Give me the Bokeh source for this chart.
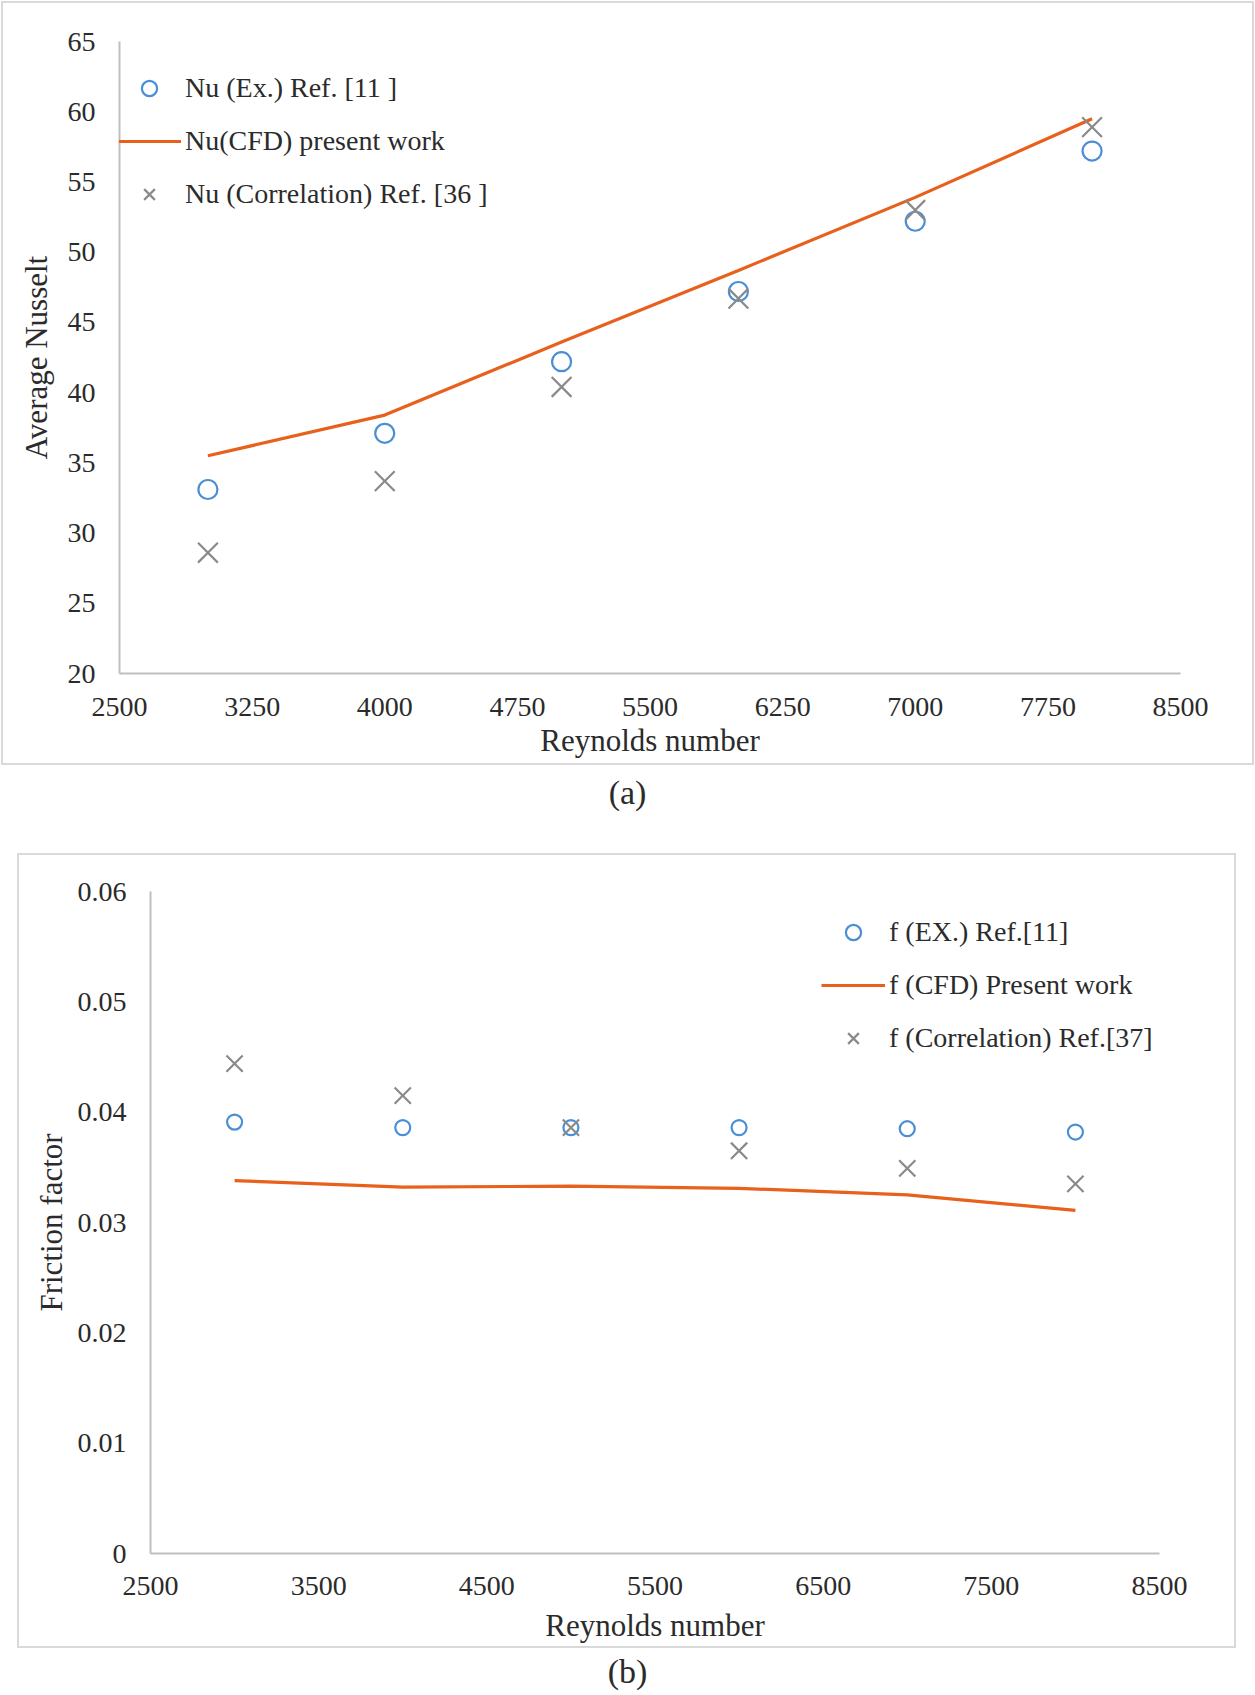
from bokeh.plotting import figure
from bokeh.models import Legend, LegendItem, Div, FixedTicker, Range1d
from bokeh.embed import file_html
from bokeh.resources import INLINE

# ---------------- data ----------------
re_vals = [3000, 4000, 5000, 6000, 7000, 8000]

nu_exp = [33.1, 37.1, 42.2, 47.2, 52.2, 57.2]
nu_cfd = [35.5, 38.4, 43.6, 48.7, 53.9, 59.5]
nu_corr = [28.6, 33.7, 40.4, 46.7, 53.0, 58.9]

f_exp = [0.0391, 0.0386, 0.0386, 0.0386, 0.0385, 0.0382]
f_cfd = [0.0338, 0.0332, 0.0333, 0.0331, 0.0325, 0.0311]
f_corr = [0.0444, 0.0415, 0.0386, 0.0365, 0.0349, 0.0335]

xticks_a = [2500, 3250, 4000, 4750, 5500, 6250, 7000, 7750, 8500]
yticks_a = [20, 25, 30, 35, 40, 45, 50, 55, 60, 65]
xticks_b = [2500, 3500, 4500, 5500, 6500, 7500, 8500]
yticks_b = [0, 0.01, 0.02, 0.03, 0.04, 0.05, 0.06]
ylabels_b = {0: "0", 0.01: "0.01", 0.02: "0.02", 0.03: "0.03", 0.04: "0.04",
             0.05: "0.05", 0.06: "0.06"}

labels_a = ["Nu (Ex.) Ref. [11 ]", "Nu(CFD) present work", "Nu (Correlation) Ref. [36 ]"]
labels_b = ["f (EX.) Ref.[11]", "f (CFD) Present work", "f (Correlation) Ref.[37]"]

FONT = "Liberation Serif"
TXT = "#2b2b2b"
BLUE = "#4a8fd6"
ORANGE = "#e8601c"
GRAY = "#8a8a8a"
AXIS = "#bfbfbf"
TICK_FS = "28px"
TITLE_FS = "31px"


def style(p, xlabel, ylabel):
    for ax in (p.xaxis, p.yaxis):
        ax.axis_line_color = AXIS
        ax.axis_line_width = 2
        ax.major_tick_line_color = None
        ax.minor_tick_line_color = None
        ax.major_tick_out = 0
        ax.major_tick_in = 0
        ax.minor_tick_out = 0
        ax.major_label_text_font = FONT
        ax.major_label_text_font_size = TICK_FS
        ax.major_label_text_color = TXT
        ax.axis_label_text_font = FONT
        ax.axis_label_text_font_size = TITLE_FS
        ax.axis_label_text_font_style = "normal"
        ax.axis_label_text_color = TXT
    p.xaxis.axis_label = xlabel
    p.yaxis.axis_label = ylabel
    p.xgrid.grid_line_color = None
    p.ygrid.grid_line_color = None
    p.outline_line_color = None
    p.background_fill_color = "white"
    p.border_fill_color = None


def make_legend(p, rs, labels, loc):
    leg = Legend(
        items=[LegendItem(label=l, renderers=[r]) for l, r in zip(labels, rs)],
        location=loc,
        glyph_width=64, glyph_height=38, label_height=38,
        spacing=15, padding=0, margin=0, label_standoff=4,
        background_fill_alpha=0, border_line_color=None,
        label_text_font=FONT, label_text_font_size="28px", label_text_color=TXT,
    )
    p.add_layout(leg)


BORDER = {"outline": "2px solid #d9d9d9", "outline-offset": "-3px",
          "background-color": "white"}

# ---------------- chart (a) ----------------
pa = figure(width=1255, height=766, output_backend="svg", toolbar_location=None,
            x_range=Range1d(2500, 8500), y_range=Range1d(20, 65),
            min_border_left=119, min_border_right=75, min_border_top=41,
            min_border_bottom=93)
style(pa, "Reynolds number", "Average Nusselt")
pa.xaxis.ticker = FixedTicker(ticks=xticks_a)
pa.yaxis.ticker = FixedTicker(ticks=yticks_a)
pa.yaxis.major_label_standoff = 24
pa.xaxis.major_label_standoff = 24
pa.xaxis.axis_label_standoff = 4
pa.yaxis.axis_label_standoff = 11

ra1 = pa.scatter(re_vals, nu_exp, marker="circle", size=19, fill_color=None,
                 line_color=BLUE, line_width=2.2)
ra2 = pa.line(re_vals, nu_cfd, line_color=ORANGE, line_width=3.2)
ra3 = pa.scatter(re_vals, nu_corr, marker="x", size=28, line_color=GRAY, line_width=2.2)
make_legend(pa, [ra1, ra2, ra3], labels_a, (-2, 460))
pa.styles = BORDER

cap_a = Div(text="(a)", width=1255, height=86, margin=(0, 0, 0, 0),
            styles={"font-family": FONT, "font-size": "34px", "color": TXT,
                    "text-align": "center", "line-height": "54px"})

# ---------------- chart (b) ----------------
pb = figure(width=1221, height=797, output_backend="svg", toolbar_location=None,
            x_range=Range1d(2500, 8500), y_range=Range1d(0, 0.06),
            min_border_left=134, min_border_right=78, min_border_top=39,
            min_border_bottom=96, margin=(0, 0, 0, 16))
style(pb, "Reynolds number", "Friction factor")
pb.xaxis.ticker = FixedTicker(ticks=xticks_b)
pb.yaxis.ticker = FixedTicker(ticks=yticks_b)
pb.yaxis.major_label_overrides = ylabels_b
pb.yaxis.major_label_standoff = 24
pb.xaxis.major_label_standoff = 23
pb.xaxis.axis_label_standoff = 10
pb.yaxis.axis_label_standoff = 6

rb1 = pb.scatter(re_vals, f_exp, marker="circle", size=15, fill_color=None,
                 line_color=BLUE, line_width=2.2)
rb2 = pb.line(re_vals, f_cfd, line_color=ORANGE, line_width=3.2)
rb3 = pb.scatter(re_vals, f_corr, marker="x", size=23, line_color=GRAY, line_width=2.2)
make_legend(pb, [rb1, rb2, rb3], labels_b, (671, 496))
pb.styles = BORDER

cap_b = Div(text="(b)", width=1255, height=40, margin=(0, 0, 0, 0),
            styles={"font-family": FONT, "font-size": "34px", "color": TXT,
                    "text-align": "center", "line-height": "46px"})

open("out.html", "w").write(file_html([pa, cap_a, pb, cap_b], INLINE))
